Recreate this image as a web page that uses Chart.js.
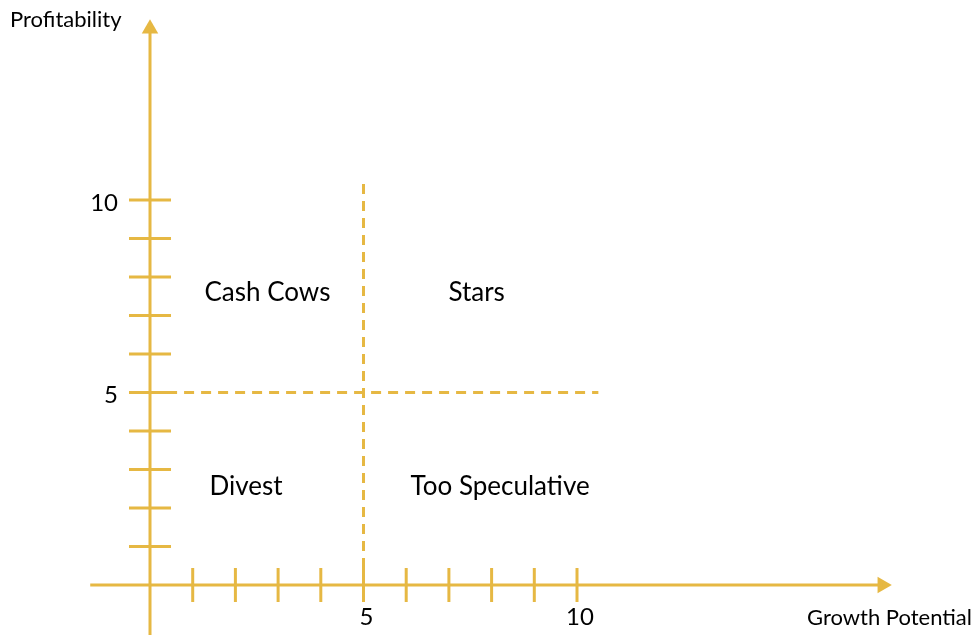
<!DOCTYPE html>
<html>
<head>
<meta charset="utf-8">
<script src="https://cdn.jsdelivr.net/npm/chart.js@4/dist/chart.umd.min.js"></script>
<style>
  html, body { margin: 0; padding: 0; background: #fff; }
</style>
</head>
<body>
<canvas id="matrixChart" width="973" height="635"></canvas>
<script>
// Data
const xTicks = [1, 2, 3, 4, 5, 6, 7, 8, 9, 10];
const yTicks = [1, 2, 3, 4, 5, 6, 7, 8, 9, 10];
const xTickLabels = [5, 10];
const yTickLabels = [5, 10];
const quadrantNames = ['Cash Cows', 'Stars', 'Divest', 'Too Speculative'];
const quadrantX = [2.75, 7.65, 2.25, 8.2];
const quadrantY = [7.6, 7.6, 2.55, 2.55];
const xAxisTitle = 'Growth Potential';
const yAxisTitle = 'Profitability';
const xAxisRange = [-1.4, 17.15];
const yAxisRange = [-1.4, 14.45];
const splitX = 5;
const splitY = 5;
const splitEnd = 10.5;

const gold = '#E6B843';
const font = 'Lato, "Open Sans", sans-serif';

// draws the labels on top of the lines
const labelPlugin = {
  id: 'labels',
  afterDatasetsDraw(chart) {
    const ctx = chart.ctx;
    const x = chart.scales.x;
    const y = chart.scales.y;
    ctx.save();
    ctx.fillStyle = '#000';

    ctx.font = '26px ' + font;
    ctx.textAlign = 'center';
    ctx.textBaseline = 'middle';
    quadrantNames.forEach((name, i) => {
      ctx.fillText(name, x.getPixelForValue(quadrantX[i]), y.getPixelForValue(quadrantY[i]));
    });

    ctx.font = '24px ' + font;
    ctx.textAlign = 'right';
    yTickLabels.forEach(v => {
      ctx.fillText(String(v), x.getPixelForValue(0) - 32, y.getPixelForValue(v) + 3);
    });
    ctx.textAlign = 'center';
    xTickLabels.forEach(v => {
      ctx.fillText(String(v), x.getPixelForValue(v) + 3, y.getPixelForValue(0) + 32);
    });

    ctx.font = '22px ' + font;
    ctx.textAlign = 'left';
    ctx.fillText(yAxisTitle, 10, 20);
    ctx.textAlign = 'right';
    ctx.fillText(xAxisTitle, 972, y.getPixelForValue(0) + 33);
    ctx.restore();
  }
};

const lineSet = (data, dash) => ({
  data: data,
  showLine: true,
  borderColor: gold,
  borderWidth: 3,
  borderDash: dash || [],
  pointRadius: 0
});

const ctx = document.getElementById('matrixChart').getContext('2d');

new Chart(ctx, {
  type: 'scatter',
  data: {
    datasets: [
      lineSet([{ x: splitX, y: 0 }, { x: splitX, y: splitEnd }], [10, 7]),
      lineSet([{ x: 0.4, y: splitY }, { x: splitEnd, y: splitY }], [10, 7]),
      lineSet([{ x: xAxisRange[0], y: 0 }, { x: xAxisRange[1], y: 0 }]),
      lineSet([{ x: 0, y: yAxisRange[0] }, { x: 0, y: yAxisRange[1] }]),
      {
        data: xTicks.map(v => ({ x: v, y: 0 })),
        pointStyle: 'line',
        rotation: 90,
        pointRadius: 17,
        borderColor: gold,
        borderWidth: 3
      },
      {
        data: yTicks.map(v => ({ x: 0, y: v })),
        pointStyle: 'line',
        pointRadius: 21,
        borderColor: gold,
        borderWidth: 3
      },
      {
        // arrow heads
        data: [{ x: xAxisRange[1], y: 0 }, { x: 0, y: yAxisRange[1] }],
        pointStyle: 'triangle',
        rotation: [90, 0],
        pointRadius: 9.5,
        backgroundColor: gold,
        borderColor: gold,
        borderWidth: 0
      }
    ]
  },
  options: {
    responsive: false,
    animation: false,
    devicePixelRatio: 1,
    layout: { padding: 0, autoPadding: false },
    plugins: {
      legend: { display: false },
      tooltip: { enabled: false }
    },
    scales: {
      x: { type: 'linear', display: false, min: -3.513, max: 19.274 },
      y: { type: 'linear', display: false, min: -1.299, max: 15.195 }
    }
  },
  plugins: [labelPlugin]
});
</script>
</body>
</html>
